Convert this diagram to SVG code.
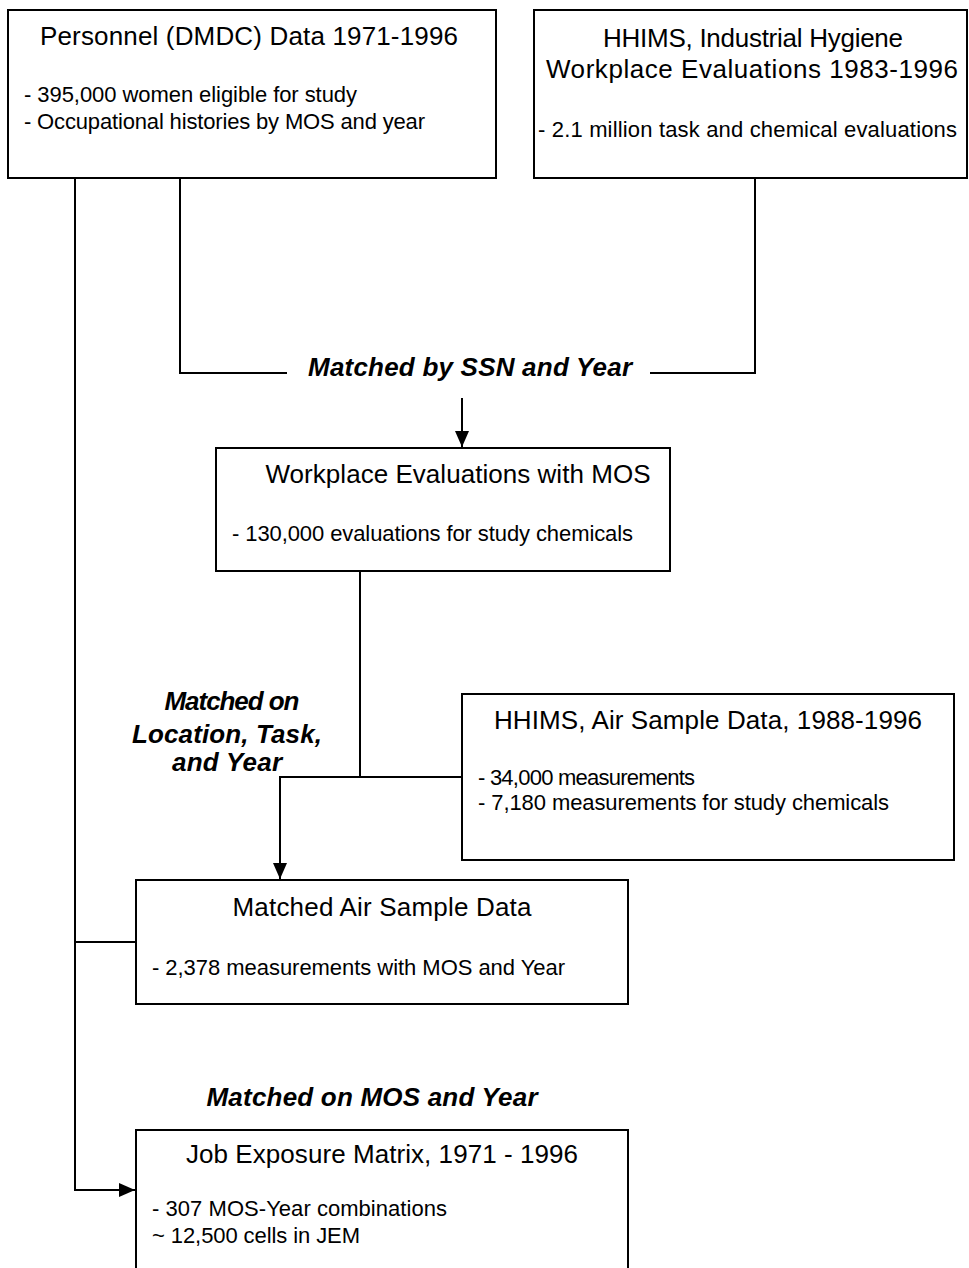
<svg xmlns="http://www.w3.org/2000/svg" width="969" height="1268" viewBox="0 0 969 1268">
<style>
.box{fill:#fff;stroke:#000;stroke-width:2}
.t{font-family:"Liberation Sans",Arial,sans-serif;font-size:26px;fill:#000}
.b{font-family:"Liberation Sans",Arial,sans-serif;font-size:22px;fill:#000}
.l{font-family:"Liberation Sans",Arial,sans-serif;font-size:26px;font-weight:bold;font-style:italic;fill:#000}
.c{fill:none;stroke:#000;stroke-width:2}
</style>
<defs>
<marker id="ah" viewBox="0 0 16 14" refX="16" refY="7" markerWidth="16" markerHeight="14" markerUnits="userSpaceOnUse" orient="auto">
<path d="M0,0 L16,7 L0,14 Z" fill="#000"/>
</marker>
</defs>
<rect width="969" height="1268" fill="#fff"/>
<g id="connectors">
<path class="c" d="M75,178 V1190 H135" marker-end="url(#ah)"/>
<path class="c" d="M180,178 V373 H287"/>
<path class="c" d="M650,373 H755 V178"/>
<path class="c" d="M462,398 V447" marker-end="url(#ah)"/>
<path class="c" d="M360,571 V777"/>
<path class="c" d="M462,777 H280 V879" marker-end="url(#ah)"/>
<path class="c" d="M75,942 H136"/>
<text class="l" x="470" y="376" text-anchor="middle" textLength="324">Matched by SSN and Year</text>
<text class="l" x="232" y="710" text-anchor="middle" textLength="135">Matched on</text>
<text class="l" x="227" y="743" text-anchor="middle" textLength="190">Location, Task,</text>
<text class="l" x="227" y="771" text-anchor="middle" textLength="110">and Year</text>
<text class="l" x="372" y="1106" text-anchor="middle" textLength="331">Matched on MOS and Year</text>
</g>
<g id="personnel">
<rect class="box" x="8" y="10" width="488" height="168"/>
<text class="t" x="249" y="45" text-anchor="middle" textLength="418">Personnel (DMDC) Data 1971-1996</text>
<text class="b" x="24" y="102" textLength="333">- 395,000 women eligible for study</text>
<text class="b" x="24" y="129" textLength="401">- Occupational histories by MOS and year</text>
</g>
<g id="hhims-ih">
<rect class="box" x="534" y="10" width="433" height="168"/>
<text class="t" x="753" y="47" text-anchor="middle" textLength="300">HHIMS, Industrial Hygiene</text>
<text class="t" x="752" y="78" text-anchor="middle" textLength="412">Workplace Evaluations 1983-1996</text>
<text class="b" x="538" y="137" textLength="419">- 2.1 million task and chemical evaluations</text>
</g>
<g id="workplace">
<rect class="box" x="216" y="448" width="454" height="123"/>
<text class="t" x="458" y="483" text-anchor="middle" textLength="385">Workplace Evaluations with MOS</text>
<text class="b" x="232" y="541" textLength="401">- 130,000 evaluations for study chemicals</text>
</g>
<g id="air-sample">
<rect class="box" x="462" y="694" width="492" height="166"/>
<text class="t" x="708" y="729" text-anchor="middle" textLength="428">HHIMS, Air Sample Data, 1988-1996</text>
<text class="b" x="478" y="785" textLength="217">- 34,000 measurements</text>
<text class="b" x="478" y="810" textLength="411">- 7,180 measurements for study chemicals</text>
</g>
<g id="matched-air">
<rect class="box" x="136" y="880" width="492" height="124"/>
<text class="t" x="382" y="916" text-anchor="middle" textLength="299">Matched Air Sample Data</text>
<text class="b" x="152" y="975" textLength="413">- 2,378 measurements with MOS and Year</text>
</g>
<g id="jem">
<rect class="box" x="136" y="1130" width="492" height="160"/>
<text class="t" x="382" y="1163" text-anchor="middle" textLength="392">Job Exposure Matrix, 1971 - 1996</text>
<text class="b" x="152" y="1216" textLength="295">- 307 MOS-Year combinations</text>
<text class="b" x="152" y="1243" textLength="208">~ 12,500 cells in JEM</text>
</g>
</svg>
